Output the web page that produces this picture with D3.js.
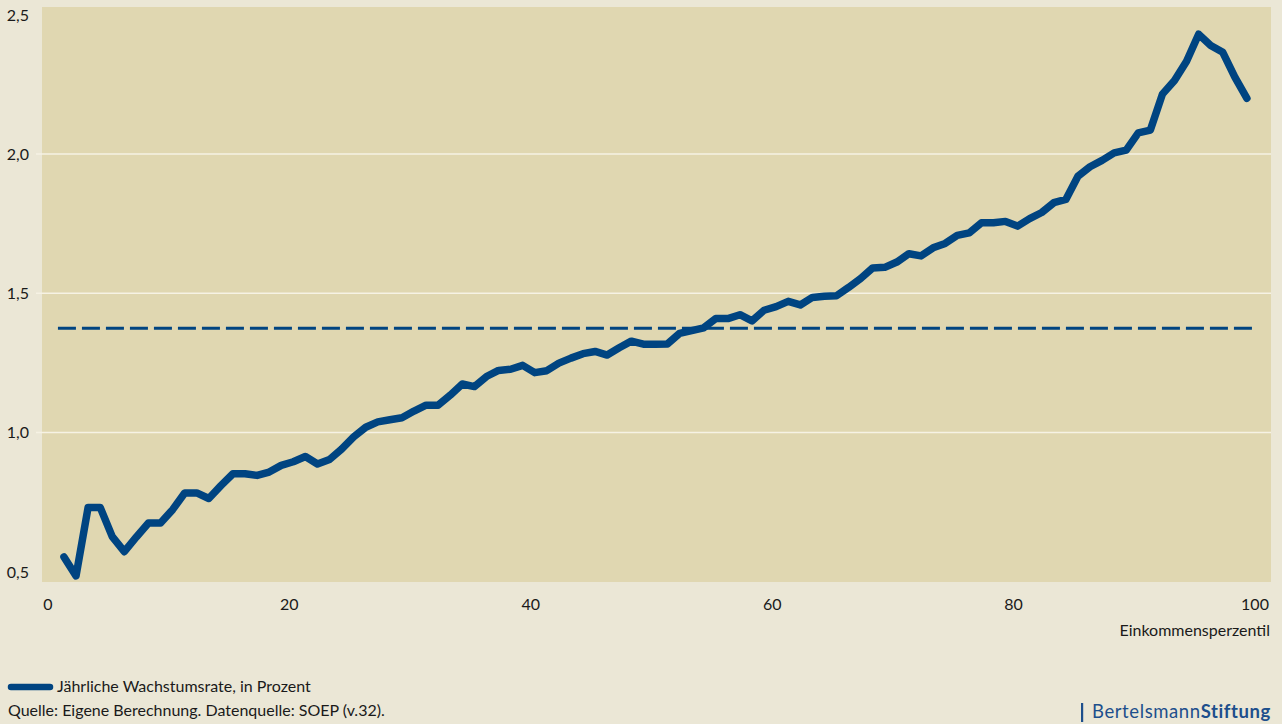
<!DOCTYPE html>
<html>
<head>
<meta charset="utf-8">
<script src="https://cdn.jsdelivr.net/npm/d3@7"></script>
<style>
  html, body { margin: 0; padding: 0; background: #ebe7d6; }
  svg { display: block; font-family: Lato, "Open Sans", sans-serif; }
</style>
</head>
<body>
<svg id="chart" width="1282" height="724"></svg>
<script>
// ---- data ----
const percentiles = d3.range(1, 100);
const growthRate = [
  0.553, 0.485, 0.731, 0.731, 0.626, 0.572, 0.625, 0.675, 0.675, 0.723,
  0.783, 0.783, 0.763, 0.809, 0.852, 0.852, 0.846, 0.858, 0.882, 0.895,
  0.914, 0.887, 0.903, 0.940, 0.984, 1.019, 1.038, 1.046, 1.053, 1.077,
  1.098, 1.098, 1.134, 1.174, 1.165, 1.201, 1.223, 1.227, 1.241, 1.215,
  1.222, 1.249, 1.267, 1.283, 1.291, 1.278, 1.304, 1.328, 1.317, 1.317,
  1.318, 1.356, 1.366, 1.376, 1.409, 1.409, 1.423, 1.401, 1.439, 1.452,
  1.471, 1.458, 1.485, 1.489, 1.491, 1.521, 1.553, 1.591, 1.593, 1.612,
  1.642, 1.634, 1.663, 1.679, 1.708, 1.717, 1.753, 1.753, 1.758, 1.741,
  1.768, 1.790, 1.825, 1.837, 1.920, 1.954, 1.977, 2.004, 2.014, 2.076,
  2.086, 2.215, 2.264, 2.333, 2.430, 2.390, 2.365, 2.276, 2.200
];
const averageRate = 1.374;
const averageSpan = [0.5, 99.5];
const xTicks = [0, 20, 40, 60, 80, 100];
const yTicks = [0.5, 1.0, 1.5, 2.0, 2.5];
const yGrid = [1.0, 1.5, 2.0];
const xTitle = "Einkommensperzentil";
const legendLabel = "Jährliche Wachstumsrate, in Prozent";
const sourceText = "Quelle: Eigene Berechnung. Datenquelle: SOEP (v.32).";

// ---- layout ----
const svg = d3.select("#chart");
const lineColor = "#004481";
const plotBg = "#e0d7b1";
const gridColor = "#f6f2e4";
const textColor = "#1a1a1a";

const x = d3.scaleLinear().domain([0, 100]).range([51.9, 1259.0]);
const y = d3.scaleLinear().domain([0.5, 2.5]).range([571.75, 14.75]);

const plotLeft = 42, plotRight = 1271, plotTop = 7, plotBottom = 582;

svg.append("rect")
  .attr("x", plotLeft).attr("y", plotTop)
  .attr("width", plotRight - plotLeft).attr("height", plotBottom - plotTop)
  .attr("fill", plotBg);

// grid
svg.append("g").selectAll("line").data(yGrid).join("line")
  .attr("x1", 36).attr("x2", plotRight)
  .attr("y1", d => y(d)).attr("y2", d => y(d))
  .attr("stroke", gridColor).attr("stroke-width", 1.5);

// y tick labels
const fmt = d => d3.format(".1f")(d).replace(".", ",");
svg.append("g").selectAll("text").data(yTicks).join("text")
  .attr("x", 29).attr("y", d => y(d)).attr("dy", "0.36em")
  .attr("text-anchor", "end")
  .attr("font-size", 16).attr("fill", textColor)
  .text(fmt);

// x tick labels
svg.append("g").selectAll("text").data(xTicks).join("text")
  .attr("x", d => x(d) - 4).attr("y", 610)
  .attr("text-anchor", "middle")
  .attr("font-size", 16).attr("fill", textColor)
  .text(d => d);

svg.append("text")
  .attr("x", 1270).attr("y", 636)
  .attr("text-anchor", "end")
  .attr("font-size", 16).attr("fill", textColor)
  .text(xTitle);

// average dashed line
svg.append("line")
  .attr("x1", x(averageSpan[0])).attr("x2", x(averageSpan[1]))
  .attr("y1", y(averageRate)).attr("y2", y(averageRate))
  .attr("stroke", lineColor).attr("stroke-width", 3)
  .attr("stroke-dasharray", "18,6");

// main line
const line = d3.line()
  .x((d, i) => x(percentiles[i]))
  .y(d => y(d));

svg.append("path")
  .datum(growthRate)
  .attr("d", line)
  .attr("fill", "none")
  .attr("stroke", lineColor)
  .attr("stroke-width", 7.5)
  .attr("stroke-linejoin", "round")
  .attr("stroke-linecap", "round");

// legend
svg.append("line")
  .attr("x1", 11).attr("x2", 50).attr("y1", 687).attr("y2", 687)
  .attr("stroke", lineColor).attr("stroke-width", 6.5)
  .attr("stroke-linecap", "round");
svg.append("text")
  .attr("x", 57).attr("y", 692)
  .attr("font-size", 16).attr("fill", textColor)
  .text(legendLabel);

svg.append("text")
  .attr("x", 8).attr("y", 716)
  .attr("font-size", 16).attr("fill", textColor)
  .text(sourceText);

// logo
const logoColor = "#1d4f8c";
svg.append("rect")
  .attr("x", 1081).attr("y", 703).attr("width", 2.2).attr("height", 19)
  .attr("fill", logoColor);
const logo = svg.append("text")
  .attr("x", 1271).attr("y", 718)
  .attr("text-anchor", "end")
  .attr("font-size", 18.5).attr("fill", logoColor)
  .attr("letter-spacing", 0.6);
logo.append("tspan").text("Bertelsmann");
logo.append("tspan").attr("font-weight", "bold").text("Stiftung");
</script>
</body>
</html>
